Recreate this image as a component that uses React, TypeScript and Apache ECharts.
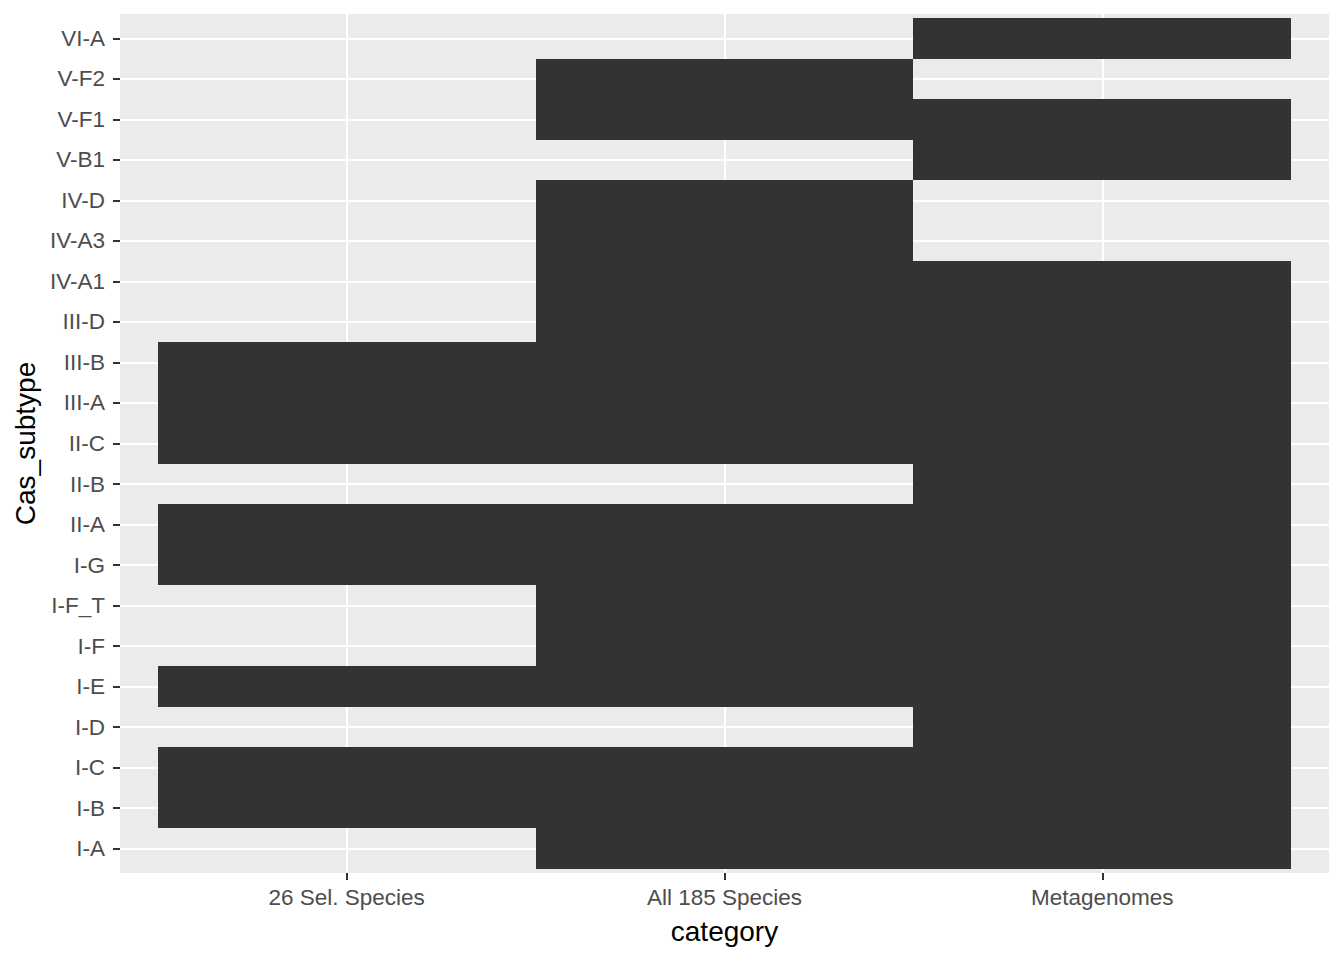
import React, { useEffect, useRef } from "react";
import * as echarts from "echarts";

const categories = ["26 Sel. Species", "All 185 Species", "Metagenomes"];
const subtypes = [
  "I-A", "I-B", "I-C", "I-D", "I-E", "I-F", "I-F_T", "I-G", "II-A", "II-B", "II-C",
  "III-A", "III-B", "III-D", "IV-A1", "IV-A3", "IV-D", "V-B1", "V-F1", "V-F2", "VI-A",
];
// presence (1) per subtype, in the order of `subtypes`
const sel26 = [0, 1, 1, 0, 1, 0, 0, 1, 1, 0, 1, 1, 1, 0, 0, 0, 0, 0, 0, 0, 0];
const all185 = [1, 1, 1, 0, 1, 1, 1, 1, 1, 0, 1, 1, 1, 1, 1, 1, 1, 0, 1, 1, 0];
const metagenomes = [1, 1, 1, 1, 1, 1, 1, 1, 1, 1, 1, 1, 1, 1, 1, 0, 0, 1, 1, 0, 1];
const presence = [sel26, all185, metagenomes];

const FONT = "'Liberation Sans', Arial, sans-serif";

export default function App() {
  const ref = useRef<HTMLDivElement>(null);
  useEffect(() => {
    if (!ref.current) return;
    const chart = echarts.init(ref.current, null, { renderer: "svg" });
    const data: number[][] = [];
    presence.forEach((col, xi) => {
      col.forEach((v, yi) => {
        if (v) data.push([xi, yi]);
      });
    });
    const xIdx = categories.map((_, i) => i);
    const yIdx = subtypes.map((_, i) => i);
    chart.setOption({
      animation: false,
      backgroundColor: "#ffffff",
      grid: {
        left: 120,
        top: 14,
        right: 15,
        bottom: 87,
        show: true,
        backgroundColor: "#EBEBEB",
        borderWidth: 0,
      },
      xAxis: {
        type: "value",
        min: -0.6,
        max: 2.6,
        name: "category",
        nameLocation: "middle",
        nameGap: 44,
        nameTextStyle: { color: "#000000", fontSize: 28, fontFamily: FONT },
        axisLine: { show: false, onZero: false },
        axisTick: {
          show: true,
          customValues: xIdx,
          length: 7,
          lineStyle: { color: "#333333", width: 2 },
        },
        axisLabel: {
          customValues: xIdx,
          formatter: (v: number) => categories[Math.round(v)] ?? "",
          color: "#4D4D4D",
          fontSize: 22.5,
          fontFamily: FONT,
          margin: 13,
        },
        splitLine: { show: true, lineStyle: { color: "#ffffff", width: 2 } },
      },
      yAxis: {
        type: "value",
        min: -0.6,
        max: 20.6,
        name: "Cas_subtype",
        nameLocation: "middle",
        nameGap: 78,
        nameTextStyle: { color: "#000000", fontSize: 28, fontFamily: FONT },
        axisLine: { show: false, onZero: false },
        axisTick: {
          show: true,
          customValues: yIdx,
          length: 7,
          lineStyle: { color: "#333333", width: 2 },
        },
        axisLabel: {
          customValues: yIdx,
          formatter: (v: number) => subtypes[Math.round(v)] ?? "",
          color: "#4D4D4D",
          fontSize: 22.5,
          fontFamily: FONT,
          margin: 15,
          padding: [3, 0, 0, 0],
        },
        splitLine: { show: true, lineStyle: { color: "#ffffff", width: 2 } },
      },
      series: [
        {
          type: "custom",
          data,
          renderItem: (params: any, api: any) => {
            const x = api.value(0);
            const y = api.value(1);
            const p0 = api.coord([x - 0.5, y + 0.5]);
            const p1 = api.coord([x + 0.5, y - 0.5]);
            const x0 = Math.round(p0[0]);
            const y0 = Math.round(p0[1]);
            const x1 = Math.round(p1[0]);
            const y1 = Math.round(p1[1]);
            return {
              type: "rect",
              shape: { x: x0, y: y0, width: x1 - x0, height: y1 - y0 },
              style: { fill: "#333333" },
            };
          },
        },
      ],
    });
    return () => chart.dispose();
  }, []);
  return (
    <div
      ref={ref}
      style={{ position: "fixed", left: 0, top: 0, width: 1344, height: 960 }}
    />
  );
}
